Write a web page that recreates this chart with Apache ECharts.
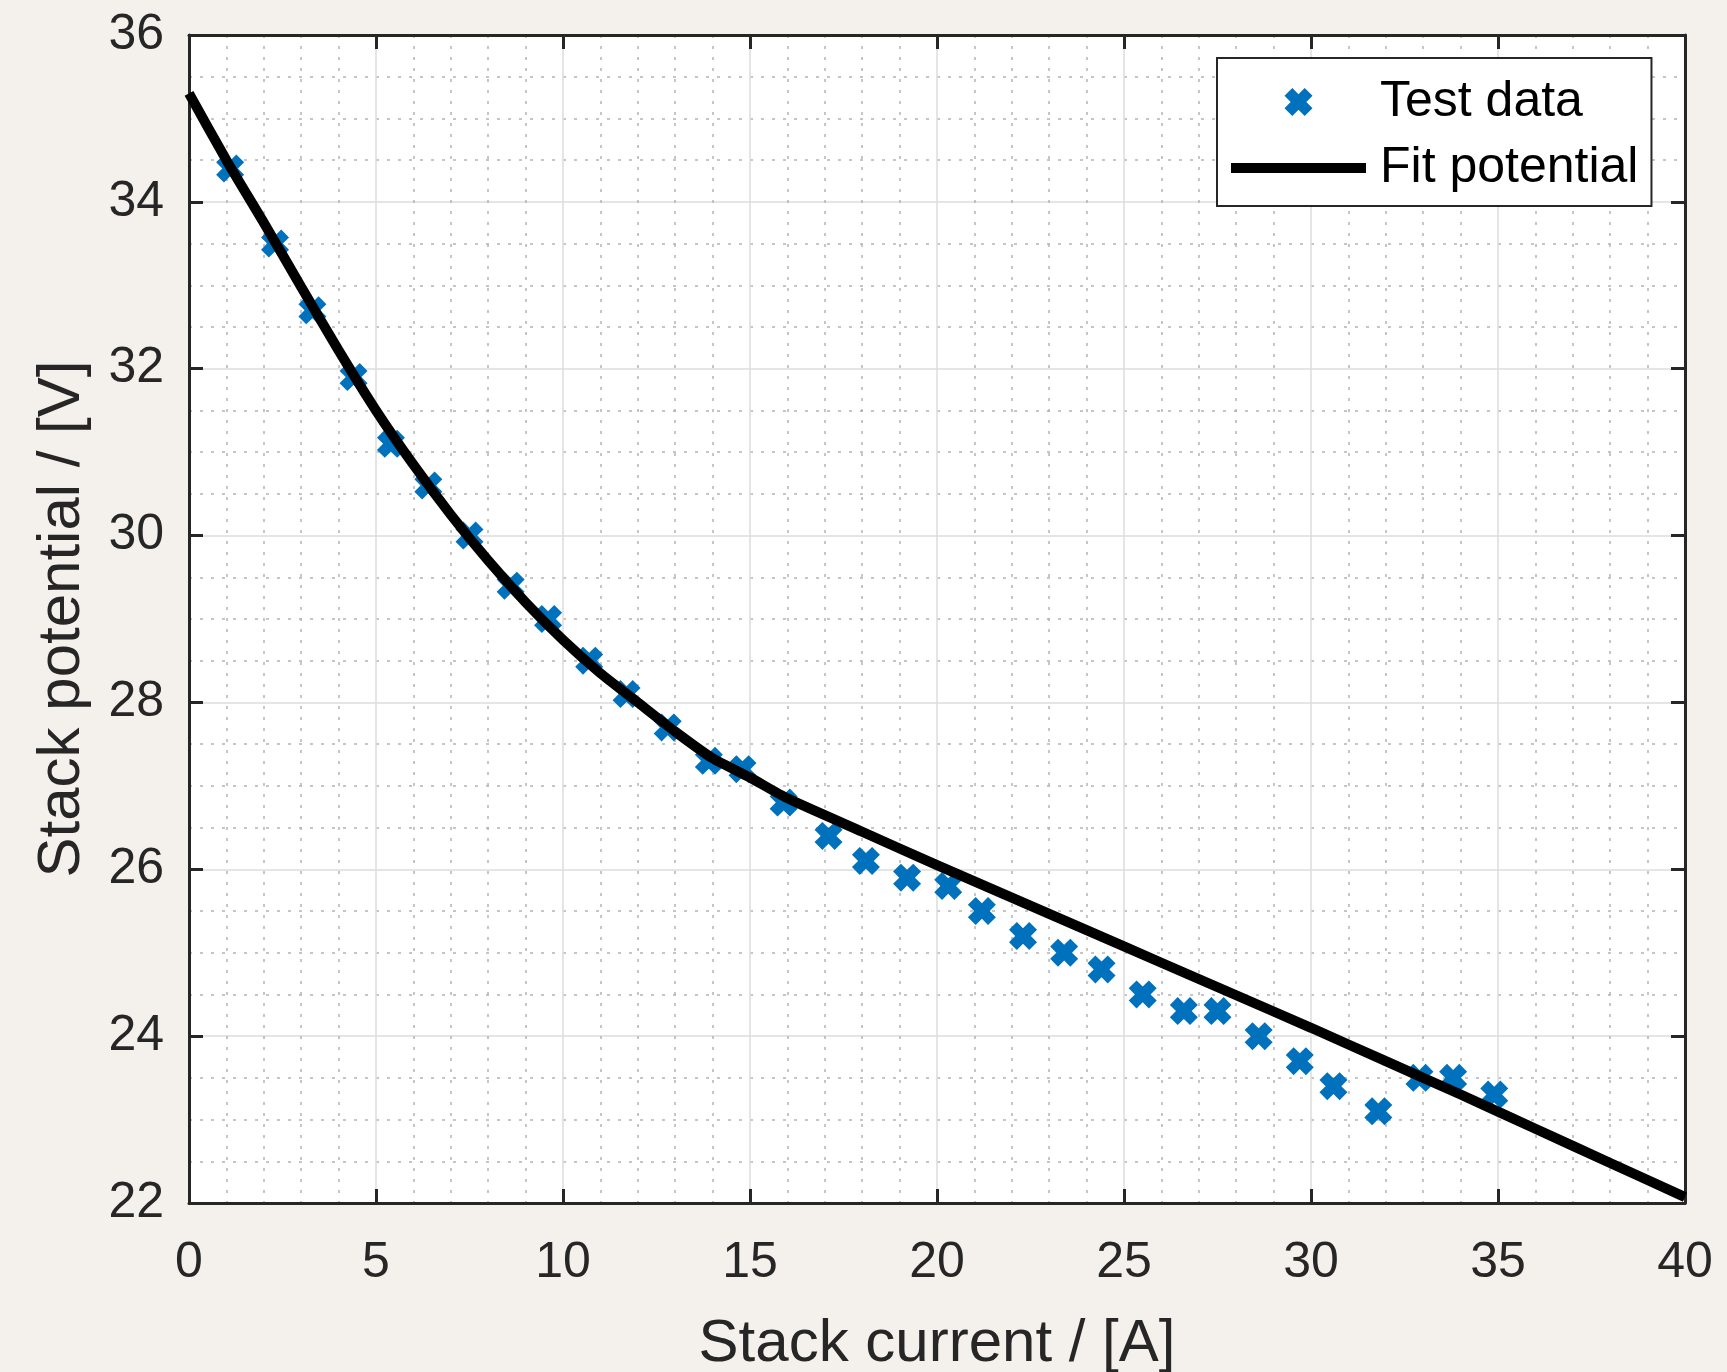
<!DOCTYPE html>
<html>
<head>
<meta charset="utf-8">
<title>Stack potential</title>
<script src="https://cdn.jsdelivr.net/npm/echarts@6/dist/echarts.min.js"></script>
<style>
  html, body { margin: 0; padding: 0; background: #f4f1ec; }
  #main { width: 1727px; height: 1372px; }
</style>
</head>
<body>
<div id="main"></div>
<script type="text/javascript">
// measured points
var testCurrent = [1.1, 2.3, 3.3, 4.4, 5.4, 6.4, 7.5, 8.6, 9.6, 10.7, 11.7, 12.8, 13.9, 14.8, 15.9,
    17.1, 18.1, 19.2, 20.3, 21.2, 22.3, 23.4, 24.4, 25.5, 26.6, 27.5, 28.6, 29.7, 30.6, 31.8,
    32.9, 33.8, 34.9];
var testPotential = [34.4, 33.5, 32.7, 31.9, 31.1, 30.6, 30.0, 29.4, 29.0, 28.5, 28.1, 27.7, 27.3, 27.2, 26.8,
    26.4, 26.1, 25.9, 25.8, 25.5, 25.2, 25.0, 24.8, 24.5, 24.3, 24.3, 24.0, 23.7, 23.4, 23.1,
    23.5, 23.5, 23.3];

// fit curve
var fitCurrent = [0, 1, 2, 3, 4, 5, 6, 7, 8, 9, 10, 11, 12, 13, 14, 15, 16,
    18, 20, 22, 24, 26, 28, 30, 32, 34, 36, 38, 40];
var fitPotential = [35.3, 34.5, 33.75, 32.98, 32.22, 31.5, 30.85, 30.25, 29.7, 29.2, 28.75, 28.35, 28.0, 27.65, 27.33, 27.1, 26.85,
    26.45, 26.05, 25.66, 25.27, 24.88, 24.49, 24.1, 23.7, 23.3, 22.89, 22.48, 22.07];

var seriesNames = ['Test data', 'Fit potential'];

var FONT = 'Liberation Sans';
var AX = '#262626';
var crossMark = 'path://M2.8,0 L5,2.2 L7.2,0 L10,2.8 L7.8,5 L10,7.2 L7.2,10 L5,7.8 L2.8,10 L0,7.2 L2.2,5 L0,2.8 Z';
var lineIcon = 'path://M0,0 L135,0 L135,10 L0,10 Z';

function zip(xs, ys) {
    var out = [];
    for (var i = 0; i < xs.length; i++) out.push([xs[i], ys[i]]);
    return out;
}

function boxAxis(pos, min, max, interval, minorSplit, main, labelMargin) {
    return {
        type: 'value',
        position: pos,
        min: min,
        max: max,
        interval: interval,
        axisLine: { show: true, onZero: false, lineStyle: { color: AX, width: 3 } },
        axisTick: { show: true, inside: true, length: 14, lineStyle: { color: AX, width: 3 } },
        axisLabel: {
            show: main,
            margin: labelMargin,
            color: AX,
            fontSize: 50,
            fontFamily: FONT
        },
        splitLine: { show: main, lineStyle: { color: '#dcdcdc', width: 1.5 } },
        minorTick: { show: false, splitNumber: minorSplit },
        minorSplitLine: { show: main, lineStyle: { color: '#b4b4b4', width: 1.5, type: [3, 8] } }
    };
}

var xBottom = boxAxis('bottom', 0, 40, 5, 5, true, 35);
xBottom.name = 'Stack current / [A]';
xBottom.nameLocation = 'middle';
xBottom.nameGap = 111;
xBottom.nameTextStyle = { color: AX, fontSize: 60, fontFamily: FONT };

var yLeft = boxAxis('left', 22, 36, 2, 4, true, 25);
yLeft.name = 'Stack potential / [V]';
yLeft.nameLocation = 'middle';
yLeft.nameGap = 97;
yLeft.nameTextStyle = { color: AX, fontSize: 60, fontFamily: FONT };

var option = {
    backgroundColor: '#f4f1ec',
    animation: false,
    grid: {
        left: 189, right: 42, top: 35, bottom: 169,
        outerBoundsMode: 'none',
        containLabel: false,
        show: true, backgroundColor: '#ffffff', borderWidth: 0
    },
    xAxis: [xBottom, boxAxis('top', 0, 40, 5, 5, false, 0)],
    yAxis: [yLeft, boxAxis('right', 22, 36, 2, 4, false, 0)],
    legend: {
        data: [
            { name: seriesNames[0] },
            { name: seriesNames[1], icon: lineIcon }
        ],
        orient: 'vertical',
        left: 1217,
        top: 58,
        padding: [19, 13, 13, 14],
        itemWidth: 135,
        itemHeight: 28,
        itemGap: 16,
        backgroundColor: '#ffffff',
        borderColor: '#262626',
        borderWidth: 2,
        borderRadius: 0,
        textStyle: { color: '#000000', fontSize: 50, fontFamily: FONT, padding: [0, 0, 0, 9] }
    },
    series: [
        {
            name: seriesNames[0],
            type: 'scatter',
            symbol: crossMark,
            symbolSize: 28,
            itemStyle: { color: '#0072bd', opacity: 1 },
            data: zip(testCurrent, testPotential)
        },
        {
            name: seriesNames[1],
            type: 'line',
            showSymbol: false,
            symbol: 'none',
            smooth: 0.2,
            lineStyle: { color: '#000000', width: 10 },
            itemStyle: { color: '#000000' },
            data: zip(fitCurrent, fitPotential)
        }
    ]
};

var myChart = echarts.init(document.getElementById('main'));
myChart.setOption(option);
</script>
</body>
</html>
